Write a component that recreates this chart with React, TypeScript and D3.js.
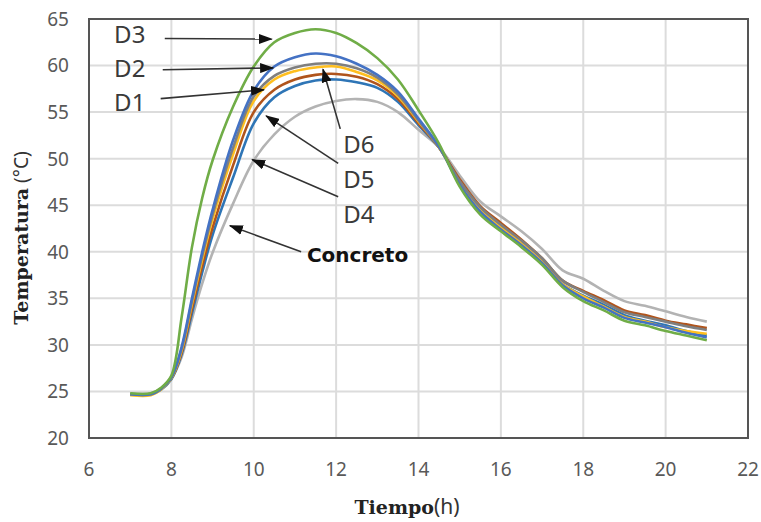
import React from "react";
import * as d3 from "d3";

const times = [7, 7.5, 7.75, 8, 8.25, 8.5, 8.75, 9, 9.5, 10, 10.5, 11, 11.5, 12, 12.5, 13, 13.5, 14, 14.5, 15, 15.5, 16, 16.5, 17, 17.5, 18, 18.5, 19, 19.5, 20, 20.5, 21];

const concreto = [24.8, 24.8, 25.3, 26.4, 28.7, 32.8, 36.6, 39.9, 45.2, 49.8, 52.6, 54.5, 55.6, 56.2, 56.4, 56.1, 55.0, 53.1, 51.2, 48.2, 45.4, 43.8, 42.2, 40.3, 38.0, 37.1, 35.8, 34.7, 34.2, 33.6, 33.0, 32.5];
const d4 = [24.7, 24.7, 25.2, 26.3, 29.0, 33.4, 37.8, 41.8, 48.0, 53.8, 56.6, 57.8, 58.4, 58.5, 58.2, 57.6, 56.1, 53.6, 51.2, 47.6, 44.6, 42.6, 40.8, 38.9, 36.5, 35.3, 34.3, 33.2, 32.6, 32.1, 31.5, 31.0];
const d5 = [24.7, 24.7, 25.3, 26.4, 29.2, 33.9, 38.5, 42.6, 49.3, 55.0, 57.4, 58.5, 59.0, 59.1, 58.8, 58.0, 56.4, 53.8, 51.2, 47.8, 44.9, 43.1, 41.3, 39.3, 36.9, 35.8, 34.8, 33.7, 33.2, 32.6, 32.2, 31.8];
const d6 = [24.6, 24.6, 25.2, 26.4, 29.4, 34.4, 39.2, 43.5, 50.5, 56.2, 58.5, 59.4, 59.8, 59.9, 59.3, 58.4, 56.7, 54.0, 51.2, 47.4, 44.5, 42.6, 40.9, 38.9, 36.5, 35.2, 34.1, 33.0, 32.5, 31.9, 31.5, 31.2];
const d1 = [24.7, 24.7, 25.3, 26.5, 29.6, 34.7, 39.6, 44.0, 51.2, 56.7, 58.9, 59.8, 60.2, 60.2, 59.7, 58.7, 56.9, 54.1, 51.2, 47.6, 44.8, 42.9, 41.2, 39.3, 36.9, 35.7, 34.6, 33.5, 33.0, 32.5, 32.0, 31.6];
const d2 = [24.7, 24.7, 25.3, 26.5, 29.8, 35.0, 40.0, 44.5, 52.0, 57.3, 59.9, 60.9, 61.3, 61.0, 60.2, 59.0, 57.2, 54.3, 51.3, 47.2, 44.3, 42.4, 40.7, 38.8, 36.4, 35.0, 34.0, 32.9, 32.4, 31.9, 31.3, 30.8];
const d3s = [24.8, 24.8, 25.4, 26.7, 33.0, 40.5, 45.8, 49.8, 55.6, 59.9, 62.5, 63.5, 63.9, 63.5, 62.4, 60.8, 58.5, 55.2, 51.6, 47.0, 44.0, 42.2, 40.5, 38.6, 36.2, 34.7, 33.7, 32.6, 32.1, 31.5, 31.0, 30.5];

const seriesNames = ["Concreto", "D4", "D5", "D6", "D1", "D2", "D3"];
const seriesValues = [concreto, d4, d5, d6, d1, d2, d3s];
const seriesColors = ["#b3b3b3", "#2e75b6", "#b0541c", "#ffbf1f", "#7f7f7f", "#4472c4", "#70ad47"];

const xTicks = [6, 8, 10, 12, 14, 16, 18, 20, 22];
const yTicks = [20, 25, 30, 35, 40, 45, 50, 55, 60, 65];

// annotation labels: text position (t, v) and arrow from (t1,v1) to (t2,v2)
const annLabels = ["D3", "D2", "D1", "D6", "D5", "D4", "Concreto"];
const annText = [[6.61, 62.4], [6.61, 58.77], [6.61, 55.12], [12.17, 50.6], [12.17, 46.85], [12.17, 43.09], [11.29, 38.9]];
const annFrom = [[7.84, 62.9], [7.79, 59.55], [7.74, 56.45], [12.1, 53.2], [12.05, 49.5], [12.05, 45.9], [11.15, 40.0]];
const annTo = [[10.44, 62.85], [10.47, 59.75], [10.25, 57.4], [11.68, 59.6], [10.3, 54.6], [9.96, 49.9], [9.42, 42.8]];

const W = 761, H = 522;
const L = 89, R = 748, T = 19, B = 438;

export default function App() {
  const x = d3.scaleLinear().domain([6, 22]).range([L, R]);
  const y = d3.scaleLinear().domain([20, 65]).range([B, T]);
  const line = d3.line<number>().x((_, i) => x(times[i])).y((v) => y(v)).curve(d3.curveCatmullRom.alpha(0.5));

  return (
    <svg width={W} height={H} style={{ position: "absolute", left: 0, top: 0, background: "#fff" }}>
      <defs>
        <marker id="ah" viewBox="0 0 14 10" refX="13" refY="5" markerWidth="14" markerHeight="10" markerUnits="userSpaceOnUse" orient="auto">
          <path d="M0,0 L14,5 L0,10 Z" fill="#111" />
        </marker>
      </defs>
      {xTicks.map((t) => (
        <line key={"gx" + t} x1={x(t)} x2={x(t)} y1={T} y2={B} stroke="#dcdcdc" strokeWidth={2} />
      ))}
      {yTicks.map((v) => (
        <line key={"gy" + v} x1={L} x2={R} y1={y(v)} y2={y(v)} stroke="#dcdcdc" strokeWidth={2} />
      ))}
      <rect x={L} y={T} width={R - L} height={B - T} fill="none" stroke="#555" strokeWidth={2} />
      {seriesValues.map((vals, i) => (
        <path key={seriesNames[i]} d={line(vals) || ""} fill="none" stroke={seriesColors[i]} strokeWidth={2.6} strokeLinejoin="round" />
      ))}
      {yTicks.map((v) => (
        <text key={"ty" + v} x={L - 20} y={y(v)} dy="0.36em" textAnchor="end" fontFamily="Noto Sans" fontSize={19} fill="#595959">{v}</text>
      ))}
      {xTicks.map((t) => (
        <text key={"tx" + t} x={x(t)} y={476} textAnchor="middle" fontFamily="Noto Sans" fontSize={19} fill="#595959">{t}</text>
      ))}
      <text x={407} y={514} textAnchor="middle" fill="#222">
        <tspan fontFamily="DejaVu Serif" fontWeight="bold" fontSize={19}>Tiempo</tspan>
        <tspan fontFamily="Noto Sans" fontSize={21} fill="#333">(h)</tspan>
      </text>
      <text transform={`translate(28,${238}) rotate(-90)`} textAnchor="middle" fill="#222">
        <tspan fontFamily="DejaVu Serif" fontWeight="bold" fontSize={19}>Temperatura</tspan>
        <tspan fontFamily="Noto Sans" fontSize={19} fill="#333">{"  (°C)"}</tspan>
      </text>
      {annLabels.map((lab, i) => (
        <g key={"a" + lab}>
          <line x1={x(annFrom[i][0])} y1={y(annFrom[i][1])} x2={x(annTo[i][0])} y2={y(annTo[i][1])} stroke="#333" strokeWidth={1.6} markerEnd="url(#ah)" />
          <text x={x(annText[i][0])} y={y(annText[i][1])} fontFamily={lab === "Concreto" ? "DejaVu Sans" : "Noto Sans"} fontWeight={lab === "Concreto" ? "bold" : "normal"} fontSize={lab === "Concreto" ? 20 : 24} fill={lab === "Concreto" ? "#111" : "#3a3a3a"}>{lab}</text>
        </g>
      ))}
    </svg>
  );
}
